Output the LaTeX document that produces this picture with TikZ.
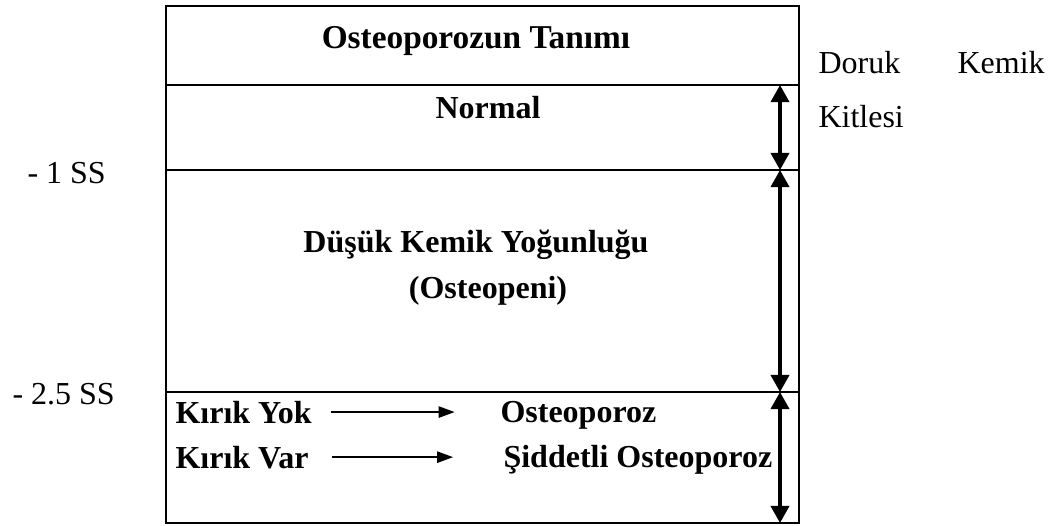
\documentclass[tikz,border=0pt]{standalone}
\usepackage{fontspec}
\setmainfont{Liberation Serif}
\usepackage{tikz}
\usetikzlibrary{arrows.meta}

\tikzset{
    lbl/.style={inner sep=0pt, font=\fontsize{12}{14}\selectfont},
    blbl/.style={inner sep=0pt, font=\fontsize{12}{14}\selectfont\bfseries},
    dblarrow/.style={line width=1.25pt, {Triangle[length=6.4pt,width=6.8pt]}-{Triangle[length=6.4pt,width=6.8pt]}},
    rarrow/.style={line width=0.7pt, -{Triangle[length=6pt,width=4.2pt]}}
}

\begin{document}
\begin{tikzpicture}[x=0.375pt,y=-0.375pt]
    \useasboundingbox (0,0) rectangle (1059,525);
    %%Table
    \draw[line width=0.85pt] (166,6) rectangle (799,523);
    \draw[line width=0.85pt]
    (166,85) to (799,85)
    (166,170) to (799,170)
    (166,392) to (799,392)
    ;
    %%Rows
    \node[blbl, anchor=base, font=\fontsize{12.5}{14}\selectfont\bfseries] (title) at (476,48) {Osteoporozun Tanımı};
    \node[blbl, anchor=base] (normal) at (488,118) {Normal};
    \node[blbl, anchor=base] (low) at (476,252) {Düşük Kemik Yoğunluğu};
    \node[blbl, anchor=base] (penia) at (488,298) {(Osteopeni)};
    \node[blbl, anchor=base west] (yok) at (175,423) {Kırık Yok};
    \node[blbl, anchor=base west] (var) at (175,468) {Kırık Var};
    \node[blbl, anchor=base west] (op) at (500,422) {Osteoporoz};
    \node[blbl, anchor=base west] (sop) at (503,467) {Şiddetli Osteoporoz};
    %%Thresholds
    \node[lbl, anchor=base west] (sd1) at (27,183) {- 1 SS};
    \node[lbl, anchor=base west] (sd2) at (12,404) {- 2.5 SS};
    %%Peak bone mass
    \node[lbl, anchor=base west] (doruk) at (818,73) {Doruk};
    \node[lbl, anchor=base west] (kemik) at (957,73) {Kemik};
    \node[lbl, anchor=base west] (kitle) at (818,127) {Kitlesi};
    %%Fracture arrows
    \draw[rarrow, shorten <=7pt, shorten >=17pt] (yok.east) to (yok.east -| op.west);
    \draw[rarrow, shorten <=8.6pt, shorten >=18.7pt] (var.east) to (var.east -| sop.west);
    %%Range arrows
    \coordinate (r1) at (780,85);
    \coordinate (r2) at (780,170);
    \coordinate (r3) at (780,392);
    \coordinate (r4) at (780,523);
    \draw[dblarrow] (r1) to (r2);
    \draw[dblarrow] (r2) to (r3);
    \draw[dblarrow] (r3) to (r4);
\end{tikzpicture}
\end{document}
